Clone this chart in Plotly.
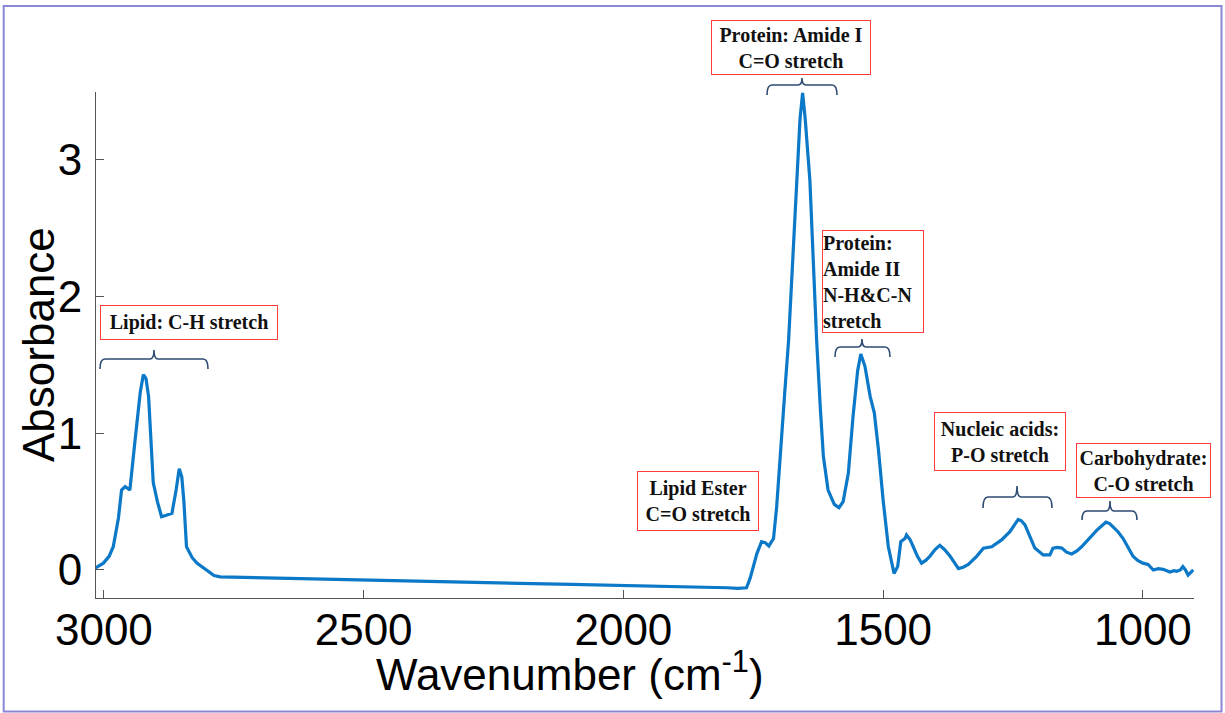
import plotly.graph_objects as go

# ---------------- data ----------------
wavenumber = [3016, 3001, 2990, 2982, 2972, 2966, 2959, 2950, 2940, 2930, 2924, 2919,
              2914, 2908, 2905, 2897, 2889, 2880, 2869, 2861, 2855, 2850, 2846, 2841,
              2830, 2821, 2810, 2799, 2788, 2776, 2720, 2600, 2500, 2400, 2300, 2200,
              2100, 2000, 1900, 1800, 1780, 1763, 1756, 1743, 1734, 1727, 1720, 1711,
              1705, 1695, 1689, 1682, 1674, 1666, 1660, 1655, 1650, 1641, 1635, 1628,
              1621, 1615, 1606, 1594, 1585, 1577, 1567, 1558, 1549, 1543, 1535, 1525,
              1517, 1509, 1500, 1490, 1479, 1472, 1466, 1458, 1455, 1448, 1442, 1434,
              1426, 1418, 1410, 1400, 1391, 1382, 1371, 1363, 1355, 1346, 1336, 1320,
              1307, 1291, 1272, 1256, 1240, 1234, 1227, 1218, 1208, 1192, 1179, 1173,
              1165, 1156, 1147, 1137, 1127, 1118, 1104, 1089, 1080, 1071, 1064, 1057,
              1048, 1038, 1028, 1019, 1010, 1000, 990, 980, 970, 961, 948, 940,
              935, 928, 923, 918, 913, 908, 903]
absorbance = [0.015, 0.05, 0.10, 0.17, 0.38, 0.585, 0.61, 0.585, 0.95, 1.30, 1.43, 1.40,
              1.27, 0.85, 0.64, 0.50, 0.39, 0.40, 0.415, 0.585, 0.74, 0.68, 0.50, 0.17,
              0.09, 0.05, 0.02, -0.01, -0.04, -0.05, -0.055, -0.065, -0.075, -0.083, -0.09, -0.098,
              -0.105, -0.112, -0.12, -0.13, -0.134, -0.13, -0.06, 0.12, 0.207, 0.20, 0.176, 0.23,
              0.46, 0.95, 1.32, 1.68, 2.25, 2.85, 3.30, 3.49, 3.30, 2.85, 2.25, 1.68,
              1.19, 0.83, 0.585, 0.48, 0.456, 0.50, 0.707, 1.12, 1.46, 1.58, 1.49, 1.27,
              1.15, 0.88, 0.51, 0.17, -0.025, 0.025, 0.207, 0.23, 0.256, 0.22, 0.17, 0.10,
              0.05, 0.07, 0.10, 0.15, 0.18, 0.15, 0.10, 0.05, 0.01, 0.02, 0.04, 0.10,
              0.16, 0.17, 0.22, 0.28, 0.37, 0.36, 0.33, 0.25, 0.16, 0.11, 0.11, 0.16,
              0.165, 0.16, 0.13, 0.117, 0.14, 0.17, 0.23, 0.29, 0.32, 0.35, 0.34, 0.317,
              0.28, 0.23, 0.16, 0.10, 0.07, 0.05, 0.04, 0.0, 0.01, 0.005, -0.015, -0.005,
              -0.01, 0.0, 0.025, 0.0, -0.037, -0.02, 0.0]

x_ticks = [3000, 2500, 2000, 1500, 1000]
y_ticks = [0, 1, 2, 3]

labels = ["Lipid: C-H stretch",
          "Protein: Amide I<br>C=O stretch",
          "Protein:<br>Amide II<br>N-H&amp;C-N<br>stretch",
          "Lipid Ester<br>C=O stretch",
          "Nucleic acids:<br>P-O stretch",
          "Carbohydrate:<br>C-O stretch"]

# ---------------- layout geometry (pixels) ----------------
W, H = 1225, 713
L, R, T, B = 96, 1194, 92, 598
XR = [3015.2, 901.6]
YR = [-0.205, 3.497]


def px(x):
    return (x - L) / (R - L)


def py(y):
    return (B - y) / (B - T)


# label boxes: (centre x, centre y, width, height, align)
boxes = [(189, 322.5, 178, 35, "center"),
         (791, 47.5, 160, 55, "center"),
         (873, 281.5, 102, 103, "left"),
         (698, 501, 122, 60, "center"),
         (1000, 441.5, 132, 59, "center"),
         (1143.5, 470, 135, 55, "center")]

# brackets: (left, right, line y, end y, centre x, tip y)
brackets = [(100, 208, 359, 369, 154, 350),
            (767, 837, 85, 95, 802, 78),
            (835, 890, 347, 357, 862, 339),
            (983, 1052, 497, 508, 1017, 486),
            (1082, 1137, 511, 520, 1110, 501)]

fig = go.Figure()
fig.add_trace(go.Scatter(x=wavenumber, y=absorbance, mode="lines",
                         line=dict(color="#0B78C8", width=3.2), showlegend=False,
                         hoverinfo="skip"))

axis_common = dict(showline=True, linecolor="#555555", linewidth=1,
                   ticks="inside", ticklen=8, tickcolor="#555555",
                   showgrid=False, zeroline=False,
                   tickfont=dict(family="Liberation Sans, Arial", size=44, color="#000"))
fig.update_xaxes(range=XR, tickvals=x_ticks, ticktext=[str(v) for v in x_ticks],
                 ticklabelstandoff=-7, **axis_common)
fig.update_yaxes(range=YR, tickvals=y_ticks, ticktext=[str(v) for v in y_ticks],
                 ticklabelstandoff=4, **axis_common)

anns = []
for (cx, cy, bw, bh, al), txt in zip(boxes, labels):
    anns.append(dict(xref="paper", yref="paper", x=px(cx), y=py(cy),
                     xanchor="center", yanchor="middle", text=txt, showarrow=False,
                     align=al, width=bw - 2, height=bh - 2, borderpad=0,
                     bordercolor="#FF3B3B", borderwidth=1, bgcolor="white",
                     font=dict(family="Liberation Serif, Times New Roman", size=20,
                               color="#111111", weight="bold")))
anns.append(dict(xref="paper", yref="paper", x=px(570), y=py(671),
                 xanchor="center", yanchor="middle", showarrow=False,
                 text="Wavenumber (cm<sup>-1</sup>)",
                 font=dict(family="Liberation Sans, Arial", size=44, color="#000")))
anns.append(dict(xref="paper", yref="paper", x=px(38), y=py(345),
                 xanchor="center", yanchor="middle", showarrow=False, textangle=-90,
                 text="Absorbance",
                 font=dict(family="Liberation Sans, Arial", size=44, color="#000")))

shapes = []
for a, b, t, yb, c, yc in brackets:
    r = 5
    pts = (f"M {px(a)},{py(yb)} Q {px(a)},{py(t)} {px(a + r)},{py(t)} "
           f"L {px(c - 4)},{py(t)} Q {px(c)},{py(t)} {px(c)},{py(yc)} "
           f"Q {px(c)},{py(t)} {px(c + 4)},{py(t)} "
           f"L {px(b - r)},{py(t)} Q {px(b)},{py(t)} {px(b)},{py(yb)}")
    shapes.append(dict(type="path", xref="paper", yref="paper", path=pts,
                       line=dict(color="#2E4B73", width=1.6)))
shapes.append(dict(type="rect", xref="paper", yref="paper",
                   x0=px(3.7), x1=px(1221.5), y0=py(6), y1=py(711.5),
                   line=dict(color="#8C86D6", width=2), layer="below"))

fig.update_layout(width=W, height=H, margin=dict(l=L, r=W - R, t=T, b=H - B),
                  paper_bgcolor="white", plot_bgcolor="white",
                  annotations=anns, shapes=shapes)

fig.write_html("out.html")
